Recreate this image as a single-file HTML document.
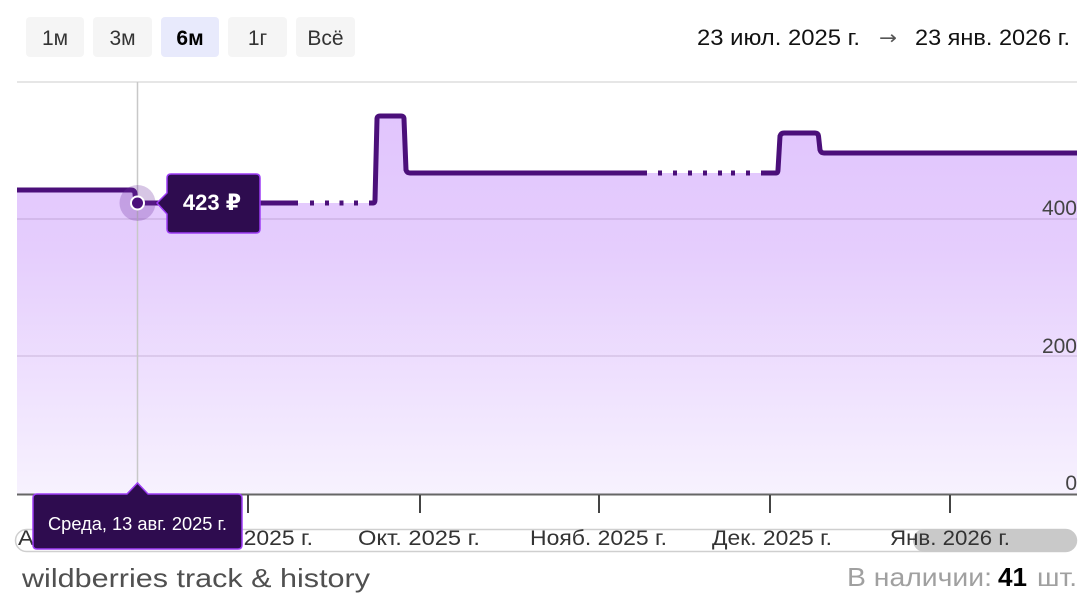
<!DOCTYPE html>
<html><head><meta charset="utf-8"><style>
html,body{margin:0;padding:0;background:#fff;overflow:hidden;width:1090px;height:600px}
svg{display:block;font-family:"Liberation Sans","DejaVu Sans",sans-serif}
</style></head><body>
<svg width="1090" height="600" viewBox="0 0 1090 600" xmlns="http://www.w3.org/2000/svg">
<defs>
<linearGradient id="fg" x1="0" y1="116" x2="0" y2="494" gradientUnits="userSpaceOnUse">
<stop offset="0" stop-color="#e1c5fd"/>
<stop offset="0.35" stop-color="#e5cdfd"/>
<stop offset="1" stop-color="#f7f2fe"/>
</linearGradient>
</defs>
<!-- header buttons -->
<g font-size="21" text-anchor="middle">
<rect x="26" y="17" width="58" height="40" rx="4" fill="#f5f5f5"/>
<text x="55" y="45" fill="#333">1м</text>
<rect x="93" y="17" width="59" height="40" rx="4" fill="#f5f5f5"/>
<text x="122.5" y="45" fill="#333">3м</text>
<rect x="161" y="17" width="58" height="40" rx="4" fill="#e8eafc"/>
<text x="190" y="45" fill="#000" font-weight="bold">6м</text>
<rect x="228" y="17" width="59" height="40" rx="4" fill="#f5f5f5"/>
<text x="257.5" y="45" fill="#333">1г</text>
<rect x="296" y="17" width="59" height="40" rx="4" fill="#f5f5f5"/>
<text x="325.5" y="45" fill="#333">Всё</text>
</g>
<text x="697" y="45" font-size="22" fill="#111" textLength="163" lengthAdjust="spacingAndGlyphs">23 июл. 2025 г.</text>
<text x="879" y="44" font-size="19" fill="#555" font-family="DejaVu Sans, sans-serif" textLength="18" lengthAdjust="spacingAndGlyphs">→</text>
<text x="915" y="45" font-size="22" fill="#111" textLength="155" lengthAdjust="spacingAndGlyphs">23 янв. 2026 г.</text>
<!-- top line -->
<line x1="17" y1="82" x2="1077" y2="82" stroke="#e6e6e6" stroke-width="2"/>
<!-- fill -->
<path d="M17,190 L133,190 L136,203 L375,203 L377,116 L404,116 L407,173 L778,173 L781,133 L818,133 L821,153 L1077,153 L1077,494 L17,494 Z" fill="url(#fg)"/>
<!-- grid -->
<line x1="17" y1="219" x2="1077" y2="219" stroke="rgba(90,60,110,0.12)" stroke-width="2"/>
<line x1="17" y1="356" x2="1077" y2="356" stroke="rgba(90,60,110,0.12)" stroke-width="2"/>
<!-- y labels -->
<g font-size="21" fill="#444" text-anchor="end">
<text x="1077" y="215">400</text>
<text x="1077" y="353">200</text>
<text x="1077" y="490">0</text>
</g>
<!-- crosshair -->
<line x1="137.5" y1="82" x2="137.5" y2="494" stroke="#c8c8c8" stroke-width="1.5"/>
<!-- line -->
<g fill="none" stroke="#4b0f7a" stroke-width="5" stroke-linejoin="round" stroke-linecap="butt">
<path d="M17,190 L131,190 Q135,190 135,194 L136,203 L298,203"/>
<path d="M369,203 L373,203 Q375,203 375,200 L377,119 Q377,116 380,116 L401,116 Q404,116 404,119 L406,170 Q407,173 410,173 L647,173"/>
<path d="M761,173 L776,173 Q778,173 778,170 L780,136 Q781,133 784,133 L815,133 Q818,133 818.5,136 L820,150 Q821,153 824,153 L1077,153"/>
</g>
<g fill="#4b0f7a">
<rect x="310" y="200.5" width="4" height="5"/>
<rect x="325" y="200.5" width="4" height="5"/>
<rect x="339.5" y="200.5" width="4" height="5"/>
<rect x="354" y="200.5" width="4" height="5"/>
<rect x="658" y="170.5" width="4" height="5"/>
<rect x="673" y="170.5" width="4" height="5"/>
<rect x="688" y="170.5" width="4" height="5"/>
<rect x="703" y="170.5" width="4" height="5"/>
<rect x="718" y="170.5" width="4" height="5"/>
<rect x="731" y="170.5" width="4" height="5"/>
<rect x="746" y="170.5" width="4" height="5"/>
</g>
<!-- axis -->
<line x1="17" y1="494.5" x2="1077" y2="494.5" stroke="#666" stroke-width="2"/>
<g stroke="#444" stroke-width="2">
<line x1="68" y1="495" x2="68" y2="513"/>
<line x1="248" y1="495" x2="248" y2="513"/>
<line x1="420" y1="495" x2="420" y2="513"/>
<line x1="599" y1="495" x2="599" y2="513"/>
<line x1="770" y1="495" x2="770" y2="513"/>
<line x1="950" y1="495" x2="950" y2="513"/>
</g>
<!-- scrollbar -->
<rect x="15.5" y="529.5" width="1061" height="22" rx="11" fill="#fff" stroke="#cfcfcf" stroke-width="1.5"/>
<rect x="913" y="529" width="164" height="23" rx="11.5" fill="#c9c9c9"/>
<!-- x labels -->
<g font-size="21" fill="#333">
<text x="18" y="545" textLength="119" lengthAdjust="spacingAndGlyphs">Авг. 2025 г.</text>
<text x="181" y="545" textLength="132" lengthAdjust="spacingAndGlyphs">Сент. 2025 г.</text>
<text x="358" y="545" textLength="122" lengthAdjust="spacingAndGlyphs">Окт. 2025 г.</text>
<text x="530" y="545" textLength="137" lengthAdjust="spacingAndGlyphs">Нояб. 2025 г.</text>
<text x="712" y="545" textLength="120" lengthAdjust="spacingAndGlyphs">Дек. 2025 г.</text>
<text x="890" y="545" textLength="120" lengthAdjust="spacingAndGlyphs">Янв. 2026 г.</text>
</g>
<!-- marker -->
<circle cx="137.5" cy="203" r="18" fill="rgba(110,50,160,0.28)"/>
<circle cx="137.5" cy="203" r="6.5" fill="#4b0f7a" stroke="#fff" stroke-width="2"/>
<!-- price tooltip -->
<path d="M171,174 L256,174 Q260,174 260,178 L260,229 Q260,233 256,233 L171,233 Q167,233 167,229 L167,214 L157,203 L167,193 L167,178 Q167,174 171,174 Z" fill="#2e0c4f" stroke="#9d3cf5" stroke-width="1.5"/>
<text x="212" y="210" font-size="22" font-weight="bold" fill="#fff" text-anchor="middle">423 ₽</text>
<!-- date tooltip -->
<path d="M37,494 L127,494 L137.5,483 L148,494 L238,494 Q242,494 242,498 L242,545 Q242,549 238,549 L37,549 Q33,549 33,545 L33,498 Q33,494 37,494 Z" fill="#2e0c4f" stroke="#9d3cf5" stroke-width="1.5"/>
<text x="48" y="530" font-size="18" fill="#fff" textLength="179" lengthAdjust="spacingAndGlyphs">Среда, 13 авг. 2025 г.</text>
<!-- footer -->
<text x="22" y="587" font-size="26" fill="#505050" textLength="348" lengthAdjust="spacingAndGlyphs">wildberries track &amp; history</text>
<text x="847" y="586" font-size="26" fill="#a0a0a0" textLength="145" lengthAdjust="spacingAndGlyphs">В наличии:</text>
<text x="998" y="586" font-size="26" fill="#000" font-weight="bold" textLength="29" lengthAdjust="spacingAndGlyphs">41</text>
<text x="1037" y="586" font-size="26" fill="#a0a0a0" textLength="40" lengthAdjust="spacingAndGlyphs">шт.</text>
</svg>
</body></html>
